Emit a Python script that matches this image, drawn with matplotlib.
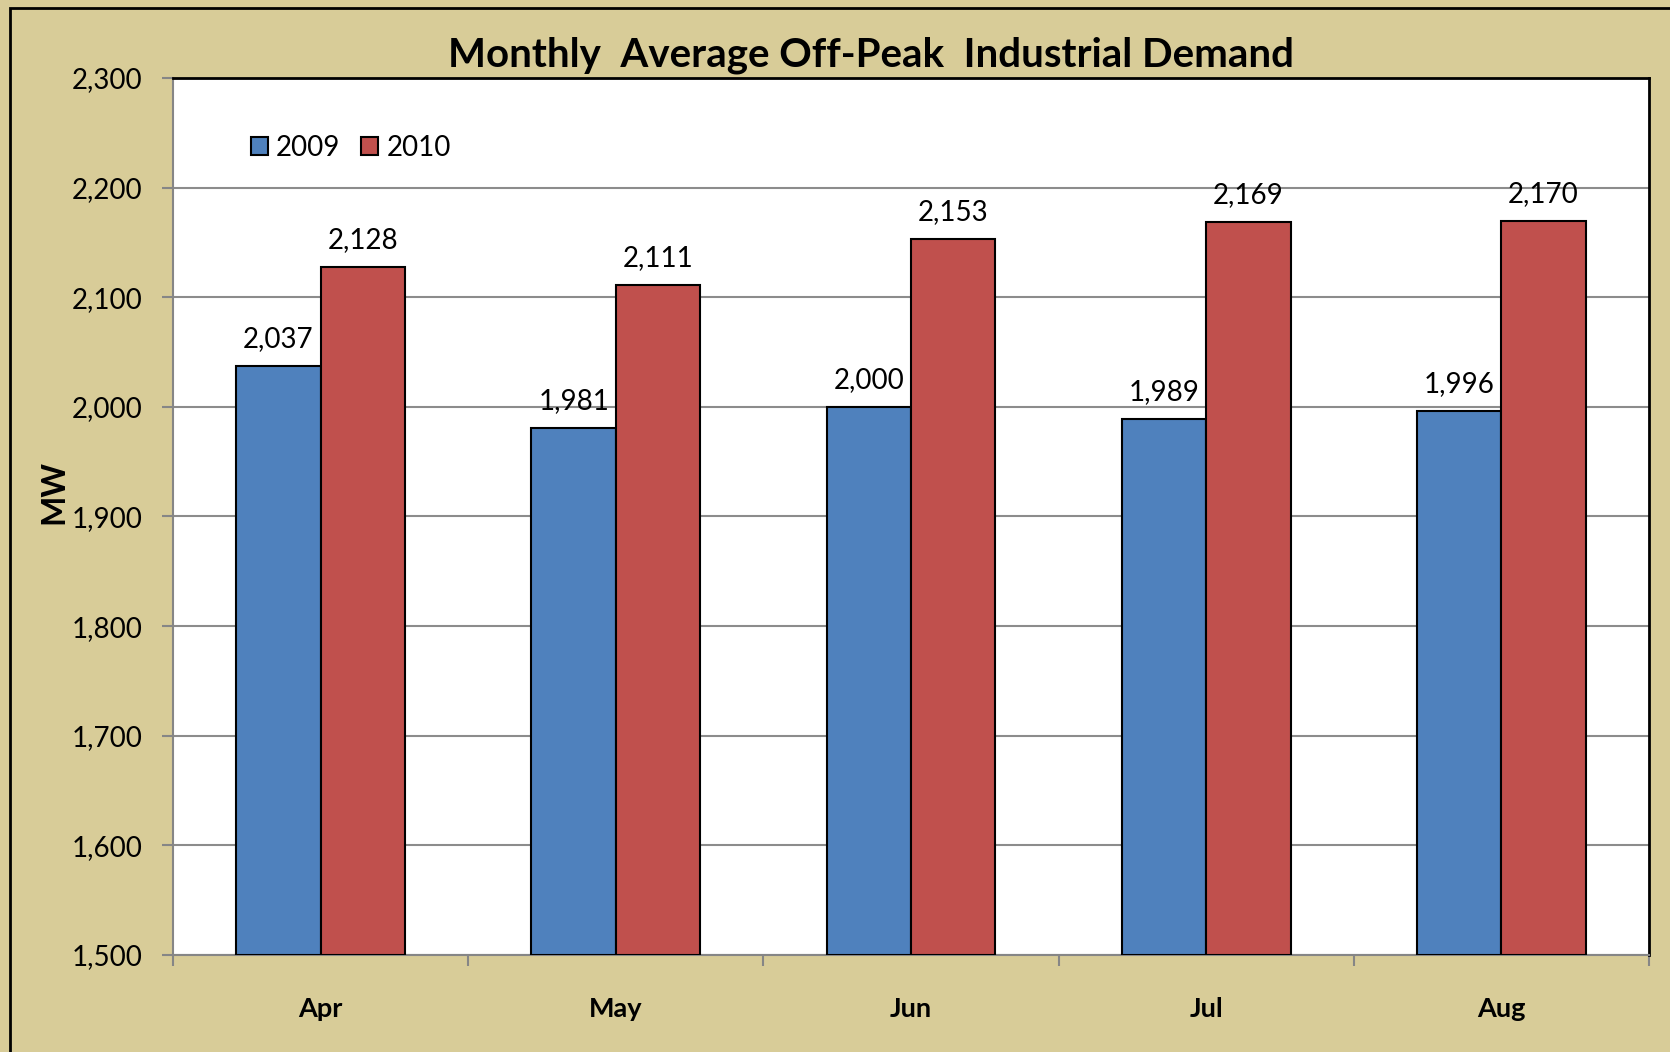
import matplotlib
matplotlib.use("Agg")
import matplotlib.pyplot as plt
from matplotlib.patches import Rectangle
import numpy as np

months = ["Apr", "May", "Jun", "Jul", "Aug"]
series_names = ["2009", "2010"]
values_2009 = [2037, 1981, 2000, 1989, 1996]
values_2010 = [2128, 2111, 2153, 2169, 2170]
y_ticks = [1500, 1600, 1700, 1800, 1900, 2000, 2100, 2200, 2300]

plt.rcParams['font.family'] = ['Lato', 'DejaVu Sans']

bg = '#D8CC98'
blue = '#4F81BD'
red = '#C0504D'

fig = plt.figure(figsize=(16.7, 10.52), dpi=100, facecolor=bg)
# outer border (clipped at right/bottom like the reference)
fig.patches.append(Rectangle((10/1670, -0.05), 1.2, 1 - 8/1052 + 0.05,
                             transform=fig.transFigure, fill=False,
                             edgecolor='black', linewidth=2))

ax = fig.add_axes([173/1670, 97/1052, (1649-173)/1670, (955-78)/1052])
ax.set_facecolor('white')

x = np.arange(len(months))
w = 1/3.5
b1 = ax.bar(x - w/2, np.array(values_2009) - 1500, w, bottom=1500, color=blue,
            edgecolor='black', linewidth=1.5, label=series_names[0], zorder=3)
b2 = ax.bar(x + w/2, np.array(values_2010) - 1500, w, bottom=1500, color=red,
            edgecolor='black', linewidth=1.5, label=series_names[1], zorder=3)

for bars, vals in ((b1, values_2009), (b2, values_2010)):
    for rect, v in zip(bars, vals):
        ax.annotate(f"{v:,}", (rect.get_x() + rect.get_width()/2, v),
                    xytext=(0, 10), textcoords='offset points',
                    ha='center', va='bottom', fontsize=20, color='black', zorder=4)

ax.set_xlim(-0.5, len(months) - 0.5)
ax.set_ylim(1500, 2300)
ax.set_yticks(y_ticks)
ax.set_yticklabels([f"{t:,}" for t in y_ticks], fontsize=20)
ax.yaxis.grid(True, color='#8C8C8C', linewidth=1.5, zorder=0)
ax.set_axisbelow(True)

ax.set_xticks(x)
ax.set_xticklabels(months, fontsize=19.5, fontweight='bold')
ax.set_xticks(np.arange(-0.5, len(months)), minor=True)
ax.tick_params(axis='x', which='major', length=0, pad=30)
ax.tick_params(axis='x', which='minor', length=8, width=1.5, color='#868686')
ax.tick_params(axis='y', length=8, width=1.5, color='#868686', pad=14)

for s in ('left', 'bottom'):
    ax.spines[s].set_color('#868686')
    ax.spines[s].set_linewidth(1.5)
for s in ('top', 'right'):
    ax.spines[s].set_color('black')
    ax.spines[s].set_linewidth(2)

ax.set_ylabel("MW", fontsize=23, fontweight='bold')
ax.yaxis.set_label_coords(-0.071, 0.528)

fig.text(871/1670, 1 - 55/1052, "Monthly  Average Off-Peak  Industrial Demand",
         ha='center', va='center', fontsize=29, fontweight='bold')

leg = ax.legend(loc='upper left', bbox_to_anchor=(0.036, 0.964), ncol=2, frameon=False,
                fontsize=20, handlelength=0.6, handleheight=0.6, handletextpad=0.3,
                columnspacing=0.75)

fig.savefig("out.png", dpi=100, facecolor=bg)
